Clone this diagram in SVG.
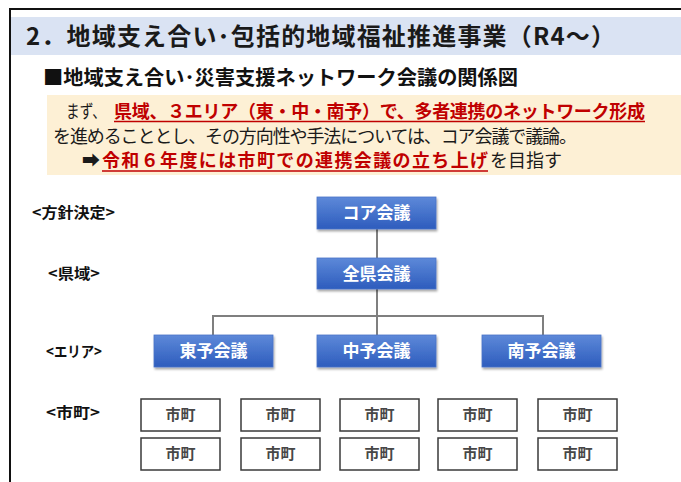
<svg xmlns="http://www.w3.org/2000/svg" width="681" height="482" viewBox="0 0 681 482">
<defs>
<linearGradient id="blueGrad" x1="0" y1="0" x2="0" y2="1">
<stop offset="0" stop-color="#5d89d9"/>
<stop offset="1" stop-color="#2d5cbd"/>
</linearGradient>
<filter id="shadow" x="-10%" y="-10%" width="130%" height="140%">
<feDropShadow dx="1" dy="2" stdDeviation="1.2" flood-color="#000" flood-opacity="0.35"/>
</filter>
</defs>
<style>
text { font-family: "Noto Sans CJK JP", "Noto Sans", sans-serif; }
.title { font-size: 24px; font-weight: 700; fill: #1a1a1a; }
.sub { font-size: 20px; font-weight: 700; fill: #111; }
.body { font-size: 18px; font-weight: 400; fill: #1a1a1a; }
.red { font-size: 18px; font-weight: 700; fill: #c00000; }
.uline { stroke: #c00000; stroke-width: 1.6; }
.lbl { font-size: 15px; font-weight: 700; fill: #111; }
.bbox { fill: url(#blueGrad); stroke: #4a74c8; stroke-width: 0.8; filter: url(#shadow); }
.btxt { font-size: 17px; font-weight: 700; fill: #ffffff; text-anchor: middle; }
.cbox { fill: #ffffff; stroke: #3a3a3a; stroke-width: 1.5; }
.ctxt { font-size: 15px; font-weight: 700; fill: #474747; text-anchor: middle; }
.conn { stroke: #7f7f7f; stroke-width: 2; fill: none; }
</style>
<rect x="0" y="0" width="681" height="482" fill="#ffffff"/>
<!-- frame -->
<path d="M10 482 V9 H681" fill="none" stroke="#111" stroke-width="2"/>
<!-- header band -->
<rect x="11" y="17" width="670" height="38" fill="#dae3f3"/>
<text class="title" x="26" y="45" textLength="589" lengthAdjust="spacing">2．地域支え合い･包括的地域福祉推進事業（R4～）</text>
<!-- subheading -->
<text class="sub" x="43" y="85" textLength="475" lengthAdjust="spacingAndGlyphs">■地域支え合い･災害支援ネットワーク会議の関係図</text>
<!-- yellow box -->
<rect x="47" y="95" width="634" height="80" fill="#fdf0d5"/>
<text class="body" x="66" y="118" textLength="40" lengthAdjust="spacingAndGlyphs">まず、</text>
<text class="red" x="114" y="118" textLength="531" lengthAdjust="spacing">県域、３エリア（東・中・南予）で、多者連携のネットワーク形成</text>
<line class="uline" x1="114" y1="121.5" x2="645" y2="121.5"/>
<text class="body" x="53" y="143" textLength="524" lengthAdjust="spacing">を進めることとし、その方向性や手法については、コア会議で議論。</text>
<text class="body" x="82" y="167" font-weight="700" fill="#111">➡</text>
<text class="red" x="102" y="167" textLength="386" lengthAdjust="spacing">令和６年度には市町での連携会議の立ち上げ</text>
<line class="uline" x1="102" y1="171" x2="488" y2="171"/>
<text class="body" x="490" y="167" textLength="72" lengthAdjust="spacing">を目指す</text>
<!-- level labels -->
<g id="labels">
<text class="lbl" x="32" y="218" textLength="83" lengthAdjust="spacingAndGlyphs">&lt;方針決定&gt;</text>
<text class="lbl" x="48" y="279" textLength="52" lengthAdjust="spacingAndGlyphs">&lt;県域&gt;</text>
<text class="lbl" x="46" y="357" textLength="56" lengthAdjust="spacingAndGlyphs">&lt;エリア&gt;</text>
<text class="lbl" x="46" y="418" textLength="54" lengthAdjust="spacingAndGlyphs">&lt;市町&gt;</text>
</g>
<!-- connectors -->
<g id="connectors">
<line class="conn" x1="377" y1="229" x2="377" y2="258"/>
<line class="conn" x1="377" y1="289" x2="377" y2="335"/>
<polyline class="conn" points="213,335 213,316 543,316 543,335"/>
</g>
<!-- blue nodes -->
<g id="core">
<rect class="bbox" x="317" y="197" width="119" height="32"/>
<text class="btxt" x="376.5" y="219">コア会議</text>
</g>
<g id="zenken">
<rect class="bbox" x="317" y="258" width="119" height="31"/>
<text class="btxt" x="376.5" y="280">全県会議</text>
</g>
<g id="toyo">
<rect class="bbox" x="154" y="335" width="119" height="32"/>
<text class="btxt" x="213.5" y="357">東予会議</text>
</g>
<g id="chuyo">
<rect class="bbox" x="317" y="335" width="119" height="32"/>
<text class="btxt" x="376.5" y="357">中予会議</text>
</g>
<g id="nanyo">
<rect class="bbox" x="482" y="335" width="119" height="32"/>
<text class="btxt" x="541.5" y="357">南予会議</text>
</g>
<!-- municipalities -->
<g id="m1"><rect class="cbox" x="141" y="399" width="79" height="32"/><text class="ctxt" x="180.5" y="420">市町</text></g>
<g id="m2"><rect class="cbox" x="241" y="399" width="79" height="32"/><text class="ctxt" x="280.5" y="420">市町</text></g>
<g id="m3"><rect class="cbox" x="340" y="399" width="79" height="32"/><text class="ctxt" x="379.5" y="420">市町</text></g>
<g id="m4"><rect class="cbox" x="438" y="399" width="79" height="32"/><text class="ctxt" x="477.5" y="420">市町</text></g>
<g id="m5"><rect class="cbox" x="538" y="399" width="79" height="32"/><text class="ctxt" x="577.5" y="420">市町</text></g>
<g id="m6"><rect class="cbox" x="141" y="438" width="79" height="32"/><text class="ctxt" x="180.5" y="459">市町</text></g>
<g id="m7"><rect class="cbox" x="241" y="438" width="79" height="32"/><text class="ctxt" x="280.5" y="459">市町</text></g>
<g id="m8"><rect class="cbox" x="340" y="438" width="79" height="32"/><text class="ctxt" x="379.5" y="459">市町</text></g>
<g id="m9"><rect class="cbox" x="438" y="438" width="79" height="32"/><text class="ctxt" x="477.5" y="459">市町</text></g>
<g id="m10"><rect class="cbox" x="538" y="438" width="79" height="32"/><text class="ctxt" x="577.5" y="459">市町</text></g>
</svg>
